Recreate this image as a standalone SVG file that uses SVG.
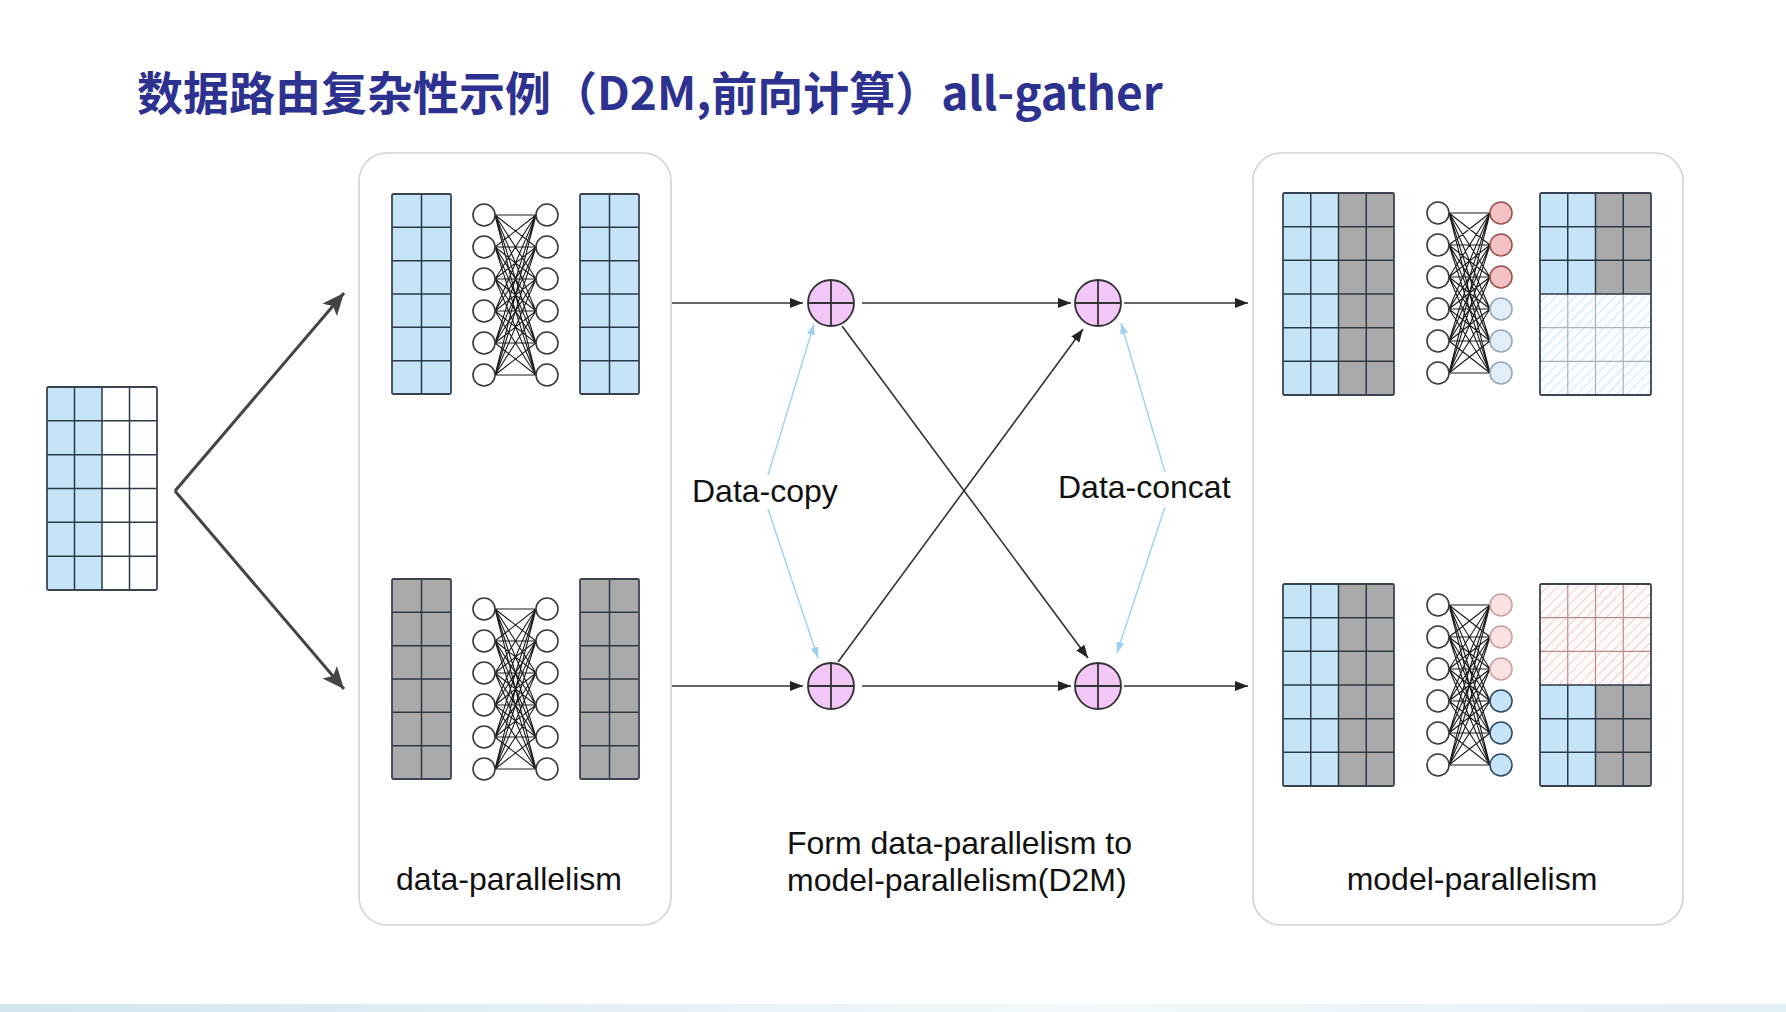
<svg xmlns="http://www.w3.org/2000/svg" xmlns:xlink="http://www.w3.org/1999/xlink" width="1786" height="1012" viewBox="0 0 1786 1012">
<style>
.title{font-family:"Noto Sans CJK SC","Noto Sans",sans-serif;font-weight:700;font-size:46px;fill:#2d3190}
.lbl{font-family:"Liberation Sans",Arial,sans-serif;font-size:32px;fill:#111}
.panel{fill:#fff;stroke:#d3d3d3;stroke-width:1.6}
.frame{fill:none;stroke:#3a4450;stroke-width:1.8}
.grid{fill:none;stroke:#2c3a48;stroke-width:1.5}
.gridL{fill:none;stroke:#a9b3bb;stroke-width:1.2}
.gridP{fill:none;stroke:#b98a8a;stroke-width:1.2}
.blue{fill:#c6e4f8}
.gray{fill:#aaaaaa}
.edge{fill:none;stroke:#1a1a1a;stroke-width:1.1}
.nd{fill:#fff;stroke:#3a3a3a;stroke-width:1.6}
.xor{fill:#f2c6f6;stroke:#333;stroke-width:1.8}
.xl{stroke:#333;stroke-width:1.8}
.arr{fill:none;stroke:#333;stroke-width:1.6}
.big{fill:none;stroke:#444;stroke-width:3}
.cp{fill:none;stroke:#9fd0f0;stroke-width:1.4}
</style>
<defs>
<marker id="mk" markerUnits="userSpaceOnUse" markerWidth="14" markerHeight="12" refX="13" refY="5" orient="auto"><path d="M0,0 L13,5 L0,10 z" fill="#222"/></marker>
<marker id="mkBig" markerUnits="userSpaceOnUse" markerWidth="24" markerHeight="22" refX="22" refY="9.5" orient="auto"><path d="M0,0 L22,9.5 L0,19 L5,9.5 z" fill="#444"/></marker>
<marker id="mkB" markerUnits="userSpaceOnUse" markerWidth="12" markerHeight="10" refX="11" refY="4" orient="auto"><path d="M0,0 L11,4 L0,8 z" fill="#9fd0f0"/></marker>
<pattern id="hatchB" width="7" height="7" patternUnits="userSpaceOnUse" patternTransform="rotate(45)"><rect width="7" height="7" fill="#fbfdff"/><line x1="0" y1="0" x2="0" y2="7" stroke="#c6e2f5" stroke-width="1.6"/></pattern>
<pattern id="hatchP" width="7" height="7" patternUnits="userSpaceOnUse" patternTransform="rotate(45)"><rect width="7" height="7" fill="#fffbfb"/><line x1="0" y1="0" x2="0" y2="7" stroke="#f2c0c0" stroke-width="1.6"/></pattern>
<linearGradient id="band" x1="0" y1="0" x2="1" y2="0"><stop offset="0" stop-color="#d2e5ef"/><stop offset="0.6" stop-color="#f2f8fb"/><stop offset="1" stop-color="#e2eef5"/></linearGradient>
<path id="grid2" d="M29.5,0V200 M0,33.33H59 M0,66.67H59 M0,100H59 M0,133.33H59 M0,166.67H59"/>
<path id="grid4" d="M27.75,0V202 M55.5,0V202 M83.25,0V202 M0,33.67H111 M0,67.33H111 M0,101H111 M0,134.67H111 M0,168.33H111"/>
<g id="m2blue"><rect class="blue" x="0" y="0" width="59" height="200"/><use xlink:href="#grid2" class="grid"/><rect class="frame" x="0" y="0" width="59" height="200" rx="1.5"/></g>
<g id="m2gray"><rect class="gray" x="0" y="0" width="59" height="200"/><use xlink:href="#grid2" class="grid"/><rect class="frame" x="0" y="0" width="59" height="200" rx="1.5"/></g>
<g id="netL">
<path class="edge" d="M11,0L52,0M11,0L52,32M11,0L52,64M11,0L52,96M11,0L52,128M11,0L52,160 M11,32L52,0M11,32L52,32M11,32L52,64M11,32L52,96M11,32L52,128M11,32L52,160 M11,64L52,0M11,64L52,32M11,64L52,64M11,64L52,96M11,64L52,128M11,64L52,160 M11,96L52,0M11,96L52,32M11,96L52,64M11,96L52,96M11,96L52,128M11,96L52,160 M11,128L52,0M11,128L52,32M11,128L52,64M11,128L52,96M11,128L52,128M11,128L52,160 M11,160L52,0M11,160L52,32M11,160L52,64M11,160L52,96M11,160L52,128M11,160L52,160"/>
<circle class="nd" cx="0" cy="0" r="11"/><circle class="nd" cx="0" cy="32" r="11"/><circle class="nd" cx="0" cy="64" r="11"/><circle class="nd" cx="0" cy="96" r="11"/><circle class="nd" cx="0" cy="128" r="11"/><circle class="nd" cx="0" cy="160" r="11"/>
</g>
<g id="netW"><use xlink:href="#netL"/>
<circle class="nd" cx="63" cy="0" r="11"/><circle class="nd" cx="63" cy="32" r="11"/><circle class="nd" cx="63" cy="64" r="11"/><circle class="nd" cx="63" cy="96" r="11"/><circle class="nd" cx="63" cy="128" r="11"/><circle class="nd" cx="63" cy="160" r="11"/>
</g>
<g id="xorS"><circle class="xor" cx="0" cy="0" r="23"/><line class="xl" x1="-23" y1="0" x2="23" y2="0"/><line class="xl" x1="0" y1="-23" x2="0" y2="23"/></g>
</defs>

<rect x="0" y="0" width="1786" height="1012" fill="#fff"/>
<rect x="0" y="1004" width="1786" height="8" fill="url(#band)"/>

<g id="title"><text class="title" x="137" y="110">数据路由复杂性示例（D2M,前向计算）all-gather</text></g>

<g id="input-matrix">
<rect class="blue" x="47" y="387" width="55" height="203"/>
<rect fill="#fff" x="102" y="387" width="55" height="203"/>
<path class="grid" d="M74.5,387V590 M102,387V590 M129.5,387V590 M47,420.8H157 M47,454.7H157 M47,488.5H157 M47,522.3H157 M47,556.2H157"/>
<rect class="frame" x="47" y="387" width="110" height="203" rx="1.5"/>
</g>

<g id="data-parallelism">
<rect class="panel" x="359" y="153" width="312" height="772" rx="28"/>
<use xlink:href="#m2blue" transform="translate(392,194)"/>
<use xlink:href="#m2blue" transform="translate(580,194)"/>
<use xlink:href="#netW" transform="translate(484,215)"/>
<use xlink:href="#m2gray" transform="translate(392,579)"/>
<use xlink:href="#m2gray" transform="translate(580,579)"/>
<use xlink:href="#netW" transform="translate(484,609)"/>
<text class="lbl" x="509" y="890" text-anchor="middle">data-parallelism</text>
</g>

<g id="model-parallelism">
<rect class="panel" x="1253" y="153" width="430" height="772" rx="28"/>
<g transform="translate(1283,193)">
<rect class="blue" x="0" y="0" width="55.5" height="202"/><rect class="gray" x="55.5" y="0" width="55.5" height="202"/>
<use xlink:href="#grid4" class="grid"/><rect class="frame" x="0" y="0" width="111" height="202" rx="1.5"/>
</g>
<g transform="translate(1438,213)">
<use xlink:href="#netL"/>
<circle cx="63" cy="0" r="11" fill="#f4c2c4" stroke="#9c5252" stroke-width="1.6"/>
<circle cx="63" cy="32" r="11" fill="#f4c2c4" stroke="#9c5252" stroke-width="1.6"/>
<circle cx="63" cy="64" r="11" fill="#f4c2c4" stroke="#9c5252" stroke-width="1.6"/>
<circle cx="63" cy="96" r="11" fill="#e0eef9" stroke="#97a7b6" stroke-width="1.6"/>
<circle cx="63" cy="128" r="11" fill="#e0eef9" stroke="#97a7b6" stroke-width="1.6"/>
<circle cx="63" cy="160" r="11" fill="#e0eef9" stroke="#97a7b6" stroke-width="1.6"/>
</g>
<g transform="translate(1540,193)">
<rect class="blue" x="0" y="0" width="55.5" height="101"/><rect class="gray" x="55.5" y="0" width="55.5" height="101"/>
<rect x="0" y="101" width="111" height="101" fill="url(#hatchB)"/>
<path class="gridL" d="M27.75,101V202 M55.5,101V202 M83.25,101V202 M0,134.67H111 M0,168.33H111"/>
<path class="grid" d="M27.75,0V101 M55.5,0V101 M83.25,0V101 M0,33.67H111 M0,67.33H111 M0,101H111"/>
<rect class="frame" x="0" y="0" width="111" height="202" rx="1.5"/>
</g>
<g transform="translate(1283,584)">
<rect class="blue" x="0" y="0" width="55.5" height="202"/><rect class="gray" x="55.5" y="0" width="55.5" height="202"/>
<use xlink:href="#grid4" class="grid"/><rect class="frame" x="0" y="0" width="111" height="202" rx="1.5"/>
</g>
<g transform="translate(1438,605)">
<use xlink:href="#netL"/>
<circle cx="63" cy="0" r="11" fill="#fbe2e2" stroke="#c9a0a0" stroke-width="1.6"/>
<circle cx="63" cy="32" r="11" fill="#fbe2e2" stroke="#c9a0a0" stroke-width="1.6"/>
<circle cx="63" cy="64" r="11" fill="#fbe2e2" stroke="#c9a0a0" stroke-width="1.6"/>
<circle cx="63" cy="96" r="11" fill="#c6e4f8" stroke="#2f4b63" stroke-width="1.6"/>
<circle cx="63" cy="128" r="11" fill="#c6e4f8" stroke="#2f4b63" stroke-width="1.6"/>
<circle cx="63" cy="160" r="11" fill="#c6e4f8" stroke="#2f4b63" stroke-width="1.6"/>
</g>
<g transform="translate(1540,584)">
<rect x="0" y="0" width="111" height="101" fill="url(#hatchP)"/>
<rect class="blue" x="0" y="101" width="55.5" height="101"/><rect class="gray" x="55.5" y="101" width="55.5" height="101"/>
<path class="gridP" d="M27.75,0V101 M55.5,0V101 M83.25,0V101 M0,33.67H111 M0,67.33H111"/>
<path class="grid" d="M27.75,101V202 M55.5,101V202 M83.25,101V202 M0,101H111 M0,134.67H111 M0,168.33H111"/>
<rect class="frame" x="0" y="0" width="111" height="202" rx="1.5"/>
</g>
<text class="lbl" x="1472" y="890" text-anchor="middle">model-parallelism</text>
</g>

<g id="xor-nodes">
<use xlink:href="#xorS" transform="translate(831,303)"/>
<use xlink:href="#xorS" transform="translate(1098,303)"/>
<use xlink:href="#xorS" transform="translate(831,686)"/>
<use xlink:href="#xorS" transform="translate(1098,686)"/>
</g>

<g id="connectors">
<line class="big" x1="175" y1="491" x2="344" y2="293" marker-end="url(#mkBig)"/>
<line class="big" x1="175" y1="491" x2="344" y2="689" marker-end="url(#mkBig)"/>
<line class="arr" x1="672" y1="303" x2="803" y2="303" marker-end="url(#mk)"/>
<line class="arr" x1="862" y1="303" x2="1071" y2="303" marker-end="url(#mk)"/>
<line class="arr" x1="1124" y1="303" x2="1248" y2="303" marker-end="url(#mk)"/>
<line class="arr" x1="672" y1="686" x2="803" y2="686" marker-end="url(#mk)"/>
<line class="arr" x1="862" y1="686" x2="1071" y2="686" marker-end="url(#mk)"/>
<line class="arr" x1="1124" y1="686" x2="1248" y2="686" marker-end="url(#mk)"/>
<line class="arr" x1="842" y1="326" x2="1088" y2="658" marker-end="url(#mk)"/>
<line class="arr" x1="838" y1="662" x2="1083" y2="329" marker-end="url(#mk)"/>
<line class="cp" x1="768" y1="475" x2="814" y2="324" marker-end="url(#mkB)"/>
<line class="cp" x1="768" y1="509" x2="818" y2="658" marker-end="url(#mkB)"/>
<line class="cp" x1="1165" y1="472" x2="1121" y2="323" marker-end="url(#mkB)"/>
<line class="cp" x1="1165" y1="507" x2="1117" y2="653" marker-end="url(#mkB)"/>
</g>

<g id="labels">
<text class="lbl" x="692" y="502">Data-copy</text>
<text class="lbl" x="1058" y="498">Data-concat</text>
<text class="lbl" x="787" y="854">Form data-parallelism to</text>
<text class="lbl" x="787" y="891">model-parallelism(D2M)</text>
</g>
</svg>
